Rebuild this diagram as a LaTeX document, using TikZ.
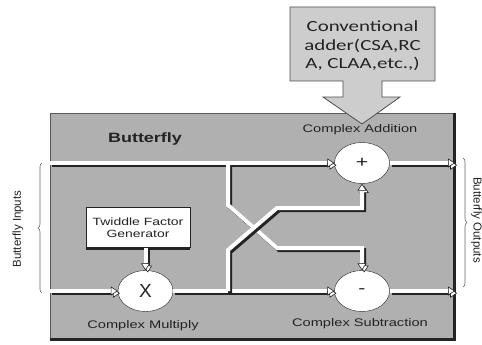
\documentclass[tikz,border=0pt]{standalone}
\usepackage{fontspec}
\setmainfont{Liberation Sans}
\newfontfamily\labfont[FakeStretch=1.33]{Liberation Sans}
\newfontfamily\adderfont[FakeStretch=1.35]{Carlito}
\usetikzlibrary{shapes.geometric,arrows.meta,decorations.pathreplacing}
\definecolor{bgray}{RGB}{176,176,176}
\definecolor{lgray}{RGB}{205,205,205}
\definecolor{ink}{RGB}{35,35,35}
\tikzset{
  wire/.style={white, line width=4pt,
    preaction={draw=ink, line width=4pt, transform canvas={shift={(2.2pt,-2.2pt)}}}},
  tip/.style={-{Triangle[width=9pt,length=7pt,color=ink,fill=white,line width=0.6pt]}},
  op/.style={ellipse, draw=ink, fill=white, minimum width=55pt, minimum height=41pt,
    inner sep=0pt, text=ink},
  lab/.style={font=\labfont\fontsize{11}{13}\selectfont, text=ink},
  bracelab/.style={font=\fontsize{11.5}{13}\selectfont, text=ink},
  bracestyle/.style={decorate, decoration={brace, amplitude=4pt}, draw=gray!80!black, line width=0.6pt},
}
\begin{document}
\begin{tikzpicture}[x=1pt, y=-1pt]
\useasboundingbox (0,0) rectangle (482,345);
\fill[white] (0,0) rectangle (482,345);

% main butterfly box
\node[draw=gray!70!black, fill=bgray, minimum width=404pt, minimum height=226pt,
      inner sep=0pt, line width=0.6pt] (bf) at (252,226) {};
\draw[ink, line width=3pt] (bf.north east) -- (bf.south east) -- (bf.south west);

% conventional adder block arrow
\draw[draw=ink!80, fill=lgray, line width=0.8pt]
  (290,7) -- (435,7) -- (435,81) -- (382,81) -- (382,97) -- (400,97) -- (362,124)
  -- (323,97) -- (343,97) -- (343,81) -- (290,81) -- cycle;
\node[align=center, font=\adderfont\fontsize{15.5}{18.5}\selectfont, text=ink] (adder)
  at (362.5,46) {Conventional\\adder(CSA,RC\\A, CLAA,etc.,)};

% labels
\node[font=\labfont\bfseries\fontsize{13.5}{15}\selectfont, text=ink] (bflab) at (145,139) {Butterfly};
\node[lab] (addlab) at (360,130) {Complex Addition};
\node[lab] (sublab) at (360,324) {Complex Subtraction};
\node[lab] (mullab) at (143,326) {Complex Multiply};

% twiddle factor generator
\node[draw=ink, fill=white, minimum width=104pt, minimum height=40pt, inner sep=0pt,
      align=center, font=\labfont\fontsize{10.5}{12.5}\selectfont, text=ink] (tw)
  at (138,227.5) {Twiddle Factor\\Generator};
\draw[ink, line width=2pt] ([yshift=-1pt]tw.south west) -- ([yshift=-1pt]tw.south east);

% operators
\node[op, font=\labfont\fontsize{16}{16}\selectfont] (plus) at (362,163) {+};
\node[op, font=\labfont\fontsize{16}{16}\selectfont] (minus) at (362,291) {-};
\node[op, font=\fontsize{19}{19}\selectfont] (mult) at (145.5,291) {X};

% coordinates
\coordinate (in1) at (50,163);
\coordinate (in2) at (50,291);
\coordinate (out1) at (455,163);
\coordinate (out2) at (455,291);
\coordinate (ja) at (228,164);
\coordinate (a1) at (228,205);
\coordinate (a2) at (277,248);
\coordinate (jb) at (228,291);
\coordinate (b1) at (228,250);
\coordinate (b2) at (277,208);

% wires
\draw[wire,tip] (in1) -- (plus.west);
\draw[wire,tip] (plus.east) -- (out1);
\draw[wire,tip] (in2) -- (mult.west);
\draw[wire,tip] (mult.east) -- (minus.west);
\draw[wire,tip] (minus.east) -- (out2);
\draw[wire,tip] (tw.south -| mult.north) -- (mult.north);
\draw[wire,tip] (ja) -- (a1) -- (a2) -- (a2 -| minus.north) -- (minus.north);
\draw[wire,tip] (jb) -- (b1) -- (b2) -- (b2 -| plus.south) -- (plus.south);

% braces
\coordinate (bi1) at (42,293);
\coordinate (bi2) at (42,163);
\coordinate (bo1) at (463,158);
\coordinate (bo2) at (463,287);
\draw[bracestyle] (bi1) -- (bi2);
\draw[bracestyle] (bo1) -- (bo2);
\node[bracelab, rotate=90] (inlab) at (18,229) {Butterfly Inputs};
\node[bracelab, rotate=-90] (outlab) at (476.5,220) {Butterfly Outputs};
\end{tikzpicture}
\end{document}
